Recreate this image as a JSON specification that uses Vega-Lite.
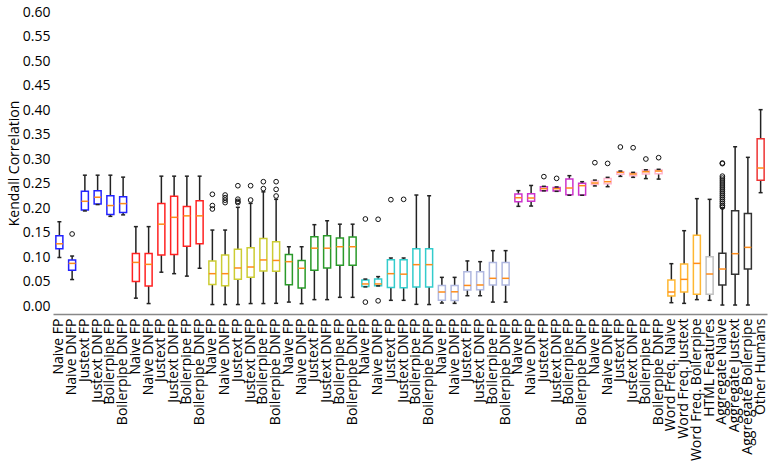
{
  "$schema": "https://vega.github.io/schema/vega-lite/v6.json",
  "autosize": {"type": "none"},
  "padding": {"left": 53, "top": 12, "right": 6, "bottom": 151},
  "width": 714,
  "height": 302,
  "background": "white",
  "config": {"view": {"stroke": null}, "font": "Open Sans", "axisY": {"tickCount": 13, "labelOverlap": false}},
  "datasets": {
    "boxes": [
      {"k": "01 Naive FP", "grp": "g1", "lo": 0.099, "q1": 0.117, "med": 0.127, "q3": 0.1435, "hi": 0.172},
      {"k": "02 Naive DNFP", "grp": "g1", "lo": 0.054, "q1": 0.073, "med": 0.087, "q3": 0.094, "hi": 0.102},
      {"k": "03 Justext FP", "grp": "g1", "lo": 0.194, "q1": 0.196, "med": 0.2137, "q3": 0.234, "hi": 0.267},
      {"k": "04 Justext DNFP", "grp": "g1", "lo": 0.207, "q1": 0.208, "med": 0.222, "q3": 0.235, "hi": 0.267},
      {"k": "05 Boilerpipe FP", "grp": "g1", "lo": 0.183, "q1": 0.187, "med": 0.205, "q3": 0.225, "hi": 0.267},
      {"k": "06 Boilerpipe DNFP", "grp": "g1", "lo": 0.186, "q1": 0.191, "med": 0.209, "q3": 0.223, "hi": 0.263},
      {"k": "07 Naive FP", "grp": "g2", "lo": 0.016, "q1": 0.05, "med": 0.089, "q3": 0.107, "hi": 0.162},
      {"k": "08 Naive DNFP", "grp": "g2", "lo": 0.005, "q1": 0.041, "med": 0.085, "q3": 0.107, "hi": 0.162},
      {"k": "09 Justext FP", "grp": "g2", "lo": 0.069, "q1": 0.104, "med": 0.167, "q3": 0.209, "hi": 0.265},
      {"k": "10 Justext DNFP", "grp": "g2", "lo": 0.066, "q1": 0.105, "med": 0.181, "q3": 0.224, "hi": 0.265},
      {"k": "11 Boilerpipe FP", "grp": "g2", "lo": 0.061, "q1": 0.122, "med": 0.184, "q3": 0.203, "hi": 0.265},
      {"k": "12 Boilerpipe DNFP", "grp": "g2", "lo": 0.077, "q1": 0.127, "med": 0.184, "q3": 0.215, "hi": 0.265},
      {"k": "13 Naive FP", "grp": "g3", "lo": 0.003, "q1": 0.044, "med": 0.066, "q3": 0.092, "hi": 0.155},
      {"k": "14 Naive DNFP", "grp": "g3", "lo": 0.003, "q1": 0.0415, "med": 0.066, "q3": 0.104, "hi": 0.155},
      {"k": "15 Justext FP", "grp": "g3", "lo": 0.003, "q1": 0.0544, "med": 0.0776, "q3": 0.1157, "hi": 0.2014},
      {"k": "16 Justext DNFP", "grp": "g3", "lo": 0.005, "q1": 0.0585, "med": 0.0796, "q3": 0.119, "hi": 0.2095},
      {"k": "17 Boilerpipe FP", "grp": "g3", "lo": 0.005, "q1": 0.0714, "med": 0.094, "q3": 0.138, "hi": 0.233},
      {"k": "18 Boilerpipe DNFP", "grp": "g3", "lo": 0.0055, "q1": 0.071, "med": 0.093, "q3": 0.131, "hi": 0.2177},
      {"k": "19 Naive FP", "grp": "g4", "lo": 0.008, "q1": 0.0435, "med": 0.0905, "q3": 0.105, "hi": 0.121},
      {"k": "20 Naive DNFP", "grp": "g4", "lo": 0.0048, "q1": 0.037, "med": 0.077, "q3": 0.093, "hi": 0.121},
      {"k": "21 Justext FP", "grp": "g4", "lo": 0.013, "q1": 0.073, "med": 0.118, "q3": 0.1415, "hi": 0.166},
      {"k": "22 Justext DNFP", "grp": "g4", "lo": 0.013, "q1": 0.0776, "med": 0.118, "q3": 0.1435, "hi": 0.174},
      {"k": "23 Boilerpipe FP", "grp": "g4", "lo": 0.0177, "q1": 0.083, "med": 0.121, "q3": 0.1388, "hi": 0.167},
      {"k": "24 Boilerpipe DNFP", "grp": "g4", "lo": 0.0177, "q1": 0.083, "med": 0.121, "q3": 0.1408, "hi": 0.167},
      {"k": "25 Naive FP", "grp": "g5", "lo": 0.039, "q1": 0.04, "med": 0.045, "q3": 0.053, "hi": 0.055},
      {"k": "26 Naive DNFP", "grp": "g5", "lo": 0.041, "q1": 0.0415, "med": 0.045, "q3": 0.055, "hi": 0.06},
      {"k": "27 Justext FP", "grp": "g5", "lo": 0.0116, "q1": 0.038, "med": 0.066, "q3": 0.0945, "hi": 0.098},
      {"k": "28 Justext DNFP", "grp": "g5", "lo": 0.0116, "q1": 0.0375, "med": 0.065, "q3": 0.0945, "hi": 0.098},
      {"k": "29 Boilerpipe FP", "grp": "g5", "lo": 0.0034, "q1": 0.0388, "med": 0.0844, "q3": 0.117, "hi": 0.2265},
      {"k": "30 Boilerpipe DNFP", "grp": "g5", "lo": 0.003, "q1": 0.0388, "med": 0.0844, "q3": 0.117, "hi": 0.225},
      {"k": "31 Naive FP", "grp": "g6", "lo": 0.006, "q1": 0.0116, "med": 0.0286, "q3": 0.042, "hi": 0.0585},
      {"k": "32 Naive DNFP", "grp": "g6", "lo": 0.0054, "q1": 0.011, "med": 0.029, "q3": 0.042, "hi": 0.0585},
      {"k": "33 Justext FP", "grp": "g6", "lo": 0.021, "q1": 0.0327, "med": 0.042, "q3": 0.07, "hi": 0.092},
      {"k": "34 Justext DNFP", "grp": "g6", "lo": 0.021, "q1": 0.0333, "med": 0.0429, "q3": 0.07, "hi": 0.0905},
      {"k": "35 Boilerpipe FP", "grp": "g6", "lo": 0.008, "q1": 0.0429, "med": 0.0565, "q3": 0.089, "hi": 0.113},
      {"k": "36 Boilerpipe DNFP", "grp": "g6", "lo": 0.008, "q1": 0.043, "med": 0.0565, "q3": 0.089, "hi": 0.113},
      {"k": "37 Naive FP", "grp": "g7", "lo": 0.2034, "q1": 0.213, "med": 0.221, "q3": 0.2286, "hi": 0.2354},
      {"k": "38 Naive DNFP", "grp": "g7", "lo": 0.204, "q1": 0.2136, "med": 0.2204, "q3": 0.229, "hi": 0.246},
      {"k": "39 Justext FP", "grp": "g7", "lo": 0.235, "q1": 0.2354, "med": 0.2395, "q3": 0.2436, "hi": 0.2443},
      {"k": "40 Justext DNFP", "grp": "g7", "lo": 0.234, "q1": 0.2347, "med": 0.2395, "q3": 0.242, "hi": 0.243},
      {"k": "41 Boilerpipe FP", "grp": "g7", "lo": 0.226, "q1": 0.227, "med": 0.2408, "q3": 0.259, "hi": 0.266},
      {"k": "42 Boilerpipe DNFP", "grp": "g7", "lo": 0.226, "q1": 0.2265, "med": 0.2456, "q3": 0.2503, "hi": 0.2537},
      {"k": "43 Naive FP", "grp": "g8", "lo": 0.245, "q1": 0.248, "med": 0.251, "q3": 0.255, "hi": 0.257},
      {"k": "44 Naive DNFP", "grp": "g8", "lo": 0.2435, "q1": 0.2497, "med": 0.2537, "q3": 0.26, "hi": 0.2626},
      {"k": "45 Justext FP", "grp": "g8", "lo": 0.2646, "q1": 0.2687, "med": 0.2728, "q3": 0.274, "hi": 0.2755},
      {"k": "46 Justext DNFP", "grp": "g8", "lo": 0.2626, "q1": 0.266, "med": 0.2694, "q3": 0.2714, "hi": 0.2728},
      {"k": "47 Boilerpipe FP", "grp": "g8", "lo": 0.26, "q1": 0.2694, "med": 0.274, "q3": 0.2768, "hi": 0.278},
      {"k": "48 Boilerpipe DNFP", "grp": "g8", "lo": 0.259, "q1": 0.27, "med": 0.2755, "q3": 0.2776, "hi": 0.279},
      {"k": "49 Word Freq. Naive", "grp": "wf", "lo": 0.0068, "q1": 0.0204, "med": 0.0286, "q3": 0.053, "hi": 0.0864},
      {"k": "50 Word Freq. Justext", "grp": "wf", "lo": 0.0054, "q1": 0.0286, "med": 0.0544, "q3": 0.0857, "hi": 0.1537},
      {"k": "51 Word Freq. Boilerpipe", "grp": "wf", "lo": 0.013, "q1": 0.0238, "med": 0.087, "q3": 0.1443, "hi": 0.2191},
      {"k": "52 HTML Features", "grp": "html", "lo": 0.0116, "q1": 0.0238, "med": 0.0653, "q3": 0.1007, "hi": 0.2177},
      {"k": "53 Aggregate Naive", "grp": "agg", "lo": 0.002, "q1": 0.0429, "med": 0.0755, "q3": 0.1075, "hi": 0.2},
      {"k": "54 Aggregate Justext", "grp": "agg", "lo": 0.002, "q1": 0.0646, "med": 0.1068, "q3": 0.1946, "hi": 0.325},
      {"k": "55 Aggregate Boilerpipe", "grp": "agg", "lo": 0.002, "q1": 0.0755, "med": 0.1197, "q3": 0.189, "hi": 0.3034},
      {"k": "56 Other Humans", "grp": "hum", "lo": 0.2313, "q1": 0.2565, "med": 0.2816, "q3": 0.3415, "hi": 0.4007}
    ],
    "outliers": [
      {"k": "02 Naive DNFP", "v": 0.147},
      {"k": "13 Naive FP", "v": 0.228}, {"k": "13 Naive FP", "v": 0.205}, {"k": "13 Naive FP", "v": 0.198},
      {"k": "14 Naive DNFP", "v": 0.2265}, {"k": "14 Naive DNFP", "v": 0.221}, {"k": "14 Naive DNFP", "v": 0.216}, {"k": "14 Naive DNFP", "v": 0.211},
      {"k": "15 Justext FP", "v": 0.2455}, {"k": "15 Justext FP", "v": 0.218}, {"k": "15 Justext FP", "v": 0.2135}, {"k": "15 Justext FP", "v": 0.211},
      {"k": "16 Justext DNFP", "v": 0.2455}, {"k": "16 Justext DNFP", "v": 0.2163},
      {"k": "17 Boilerpipe FP", "v": 0.2537}, {"k": "17 Boilerpipe FP", "v": 0.2395},
      {"k": "18 Boilerpipe DNFP", "v": 0.2537}, {"k": "18 Boilerpipe DNFP", "v": 0.238}, {"k": "18 Boilerpipe DNFP", "v": 0.2245},
      {"k": "25 Naive FP", "v": 0.1776}, {"k": "25 Naive FP", "v": 0.008},
      {"k": "26 Naive DNFP", "v": 0.177}, {"k": "26 Naive DNFP", "v": 0.0106},
      {"k": "27 Justext FP", "v": 0.217},
      {"k": "28 Justext DNFP", "v": 0.2177},
      {"k": "39 Justext FP", "v": 0.264},
      {"k": "40 Justext DNFP", "v": 0.2605},
      {"k": "43 Naive FP", "v": 0.2925},
      {"k": "44 Naive DNFP", "v": 0.291},
      {"k": "45 Justext FP", "v": 0.3245},
      {"k": "46 Justext DNFP", "v": 0.323},
      {"k": "47 Boilerpipe FP", "v": 0.3},
      {"k": "48 Boilerpipe DNFP", "v": 0.3027},
      {"k": "53 Aggregate Naive", "v": 0.2918}, {"k": "53 Aggregate Naive", "v": 0.2905},
      {"k": "53 Aggregate Naive", "v": 0.265}, {"k": "53 Aggregate Naive", "v": 0.261},
      {"k": "53 Aggregate Naive", "v": 0.257}, {"k": "53 Aggregate Naive", "v": 0.253},
      {"k": "53 Aggregate Naive", "v": 0.249}, {"k": "53 Aggregate Naive", "v": 0.245},
      {"k": "53 Aggregate Naive", "v": 0.241}, {"k": "53 Aggregate Naive", "v": 0.237},
      {"k": "53 Aggregate Naive", "v": 0.233}, {"k": "53 Aggregate Naive", "v": 0.229},
      {"k": "53 Aggregate Naive", "v": 0.225}, {"k": "53 Aggregate Naive", "v": 0.221},
      {"k": "53 Aggregate Naive", "v": 0.217}, {"k": "53 Aggregate Naive", "v": 0.213},
      {"k": "53 Aggregate Naive", "v": 0.209}, {"k": "53 Aggregate Naive", "v": 0.205},
      {"k": "53 Aggregate Naive", "v": 0.202}
    ]
  },
  "encoding": {
    "x": {
      "field": "k", "type": "nominal", "sort": "ascending",
      "scale": {"paddingInner": 0, "paddingOuter": 0},
      "axis": {
        "title": null, "labelExpr": "substring(datum.value, 3)",
        "labelAngle": -90, "labelAlign": "right", "labelBaseline": "middle",
        "labelFontSize": 14, "labelFont": "Open Sans", "labelColor": "black",
        "labelPadding": 4, "labelOverlap": false, "labelBound": false, "labelLimit": 200,
        "ticks": false, "domain": true, "domainColor": "#888888", "domainWidth": 1.5, "grid": false
      }
    }
  },
  "layer": [
    {
      "data": {"name": "boxes"},
      "mark": {"type": "rule", "color": "#222222", "strokeWidth": 1.5},
      "encoding": {
        "y": {
          "field": "lo", "type": "quantitative",
          "scale": {"domain": [-0.0163, 0.6], "nice": false, "zero": false},
          "axis": {
            "title": "Kendall Correlation", "values": [0, 0.05, 0.1, 0.15, 0.2, 0.25, 0.3, 0.35, 0.4, 0.45, 0.5, 0.55, 0.6],
            "tickCount": 13, "format": ".2f", "domain": false, "ticks": false, "grid": false, "labelOverlap": false, "labelBound": false,
            "labelFontSize": 14, "labelFont": "Open Sans", "labelColor": "black", "labelPadding": 3,
            "titleFont": "Open Sans", "titleFontSize": 14, "titleFontWeight": "normal", "titleColor": "black", "titlePadding": 1
          }
        },
        "y2": {"field": "hi"}
      }
    },
    {
      "data": {"name": "boxes"},
      "mark": {"type": "bar", "size": 7, "fill": "white", "strokeWidth": 1.5},
      "encoding": {
        "y": {"field": "q1", "type": "quantitative"},
        "y2": {"field": "q3"},
        "stroke": {
          "field": "grp", "type": "nominal", "legend": null,
          "scale": {
            "domain": ["g1", "g2", "g3", "g4", "g5", "g6", "g7", "g8", "wf", "html", "agg", "hum"],
            "range": ["#2222ff", "#ff2222", "#cccc33", "#2a9a2a", "#33cccc", "#b0b8e0", "#cc33cc", "#ffb6cf", "#ffb732", "#c0c0c0", "#333333", "#ee3333"]
          }
        }
      }
    },
    {
      "data": {"name": "boxes"},
      "mark": {"type": "tick", "color": "#ff8c1a", "size": 7, "thickness": 1.5, "opacity": 1},
      "encoding": {"y": {"field": "med", "type": "quantitative"}}
    },
    {
      "data": {"name": "boxes"},
      "mark": {"type": "tick", "color": "#222222", "size": 4, "thickness": 1.5, "opacity": 1},
      "encoding": {"y": {"field": "lo", "type": "quantitative"}}
    },
    {
      "data": {"name": "boxes"},
      "mark": {"type": "tick", "color": "#222222", "size": 4, "thickness": 1.5, "opacity": 1},
      "encoding": {"y": {"field": "hi", "type": "quantitative"}}
    },
    {
      "data": {"name": "outliers"},
      "mark": {"type": "point", "shape": "circle", "size": 22, "filled": false, "stroke": "#111111", "strokeWidth": 1, "opacity": 1},
      "encoding": {"y": {"field": "v", "type": "quantitative"}}
    }
  ]
}
